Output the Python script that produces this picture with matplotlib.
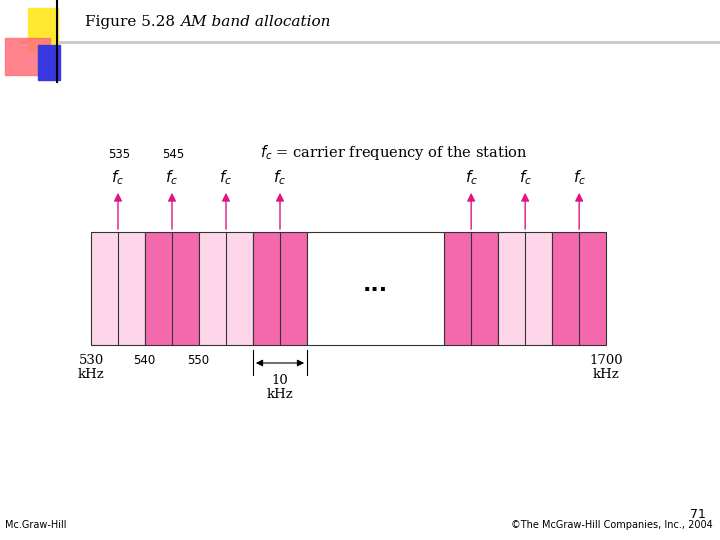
import matplotlib
matplotlib.use("Agg")
import matplotlib.pyplot as plt
from matplotlib.patches import Rectangle

# Data: band slots (in band-width units along the axis), fill type
band_slots = [0, 1, 2, 3, 6.54, 7.54, 8.54]
band_dark = [False, True, False, True, True, False, True]
gap_slot = (4, 6.54)
top_labels = ["535", "545"]
bottom_labels = ["540", "550"]
title = "Figure 5.28    AM band allocation"

fig = plt.figure(figsize=(7.2, 5.4), dpi=100)
ax = fig.add_axes([0, 0, 1, 1])
ax.set_xlim(0, 720); ax.set_ylim(540, 0); ax.axis("off")

# decorations
ax.add_patch(Rectangle((28, 8), 30, 42, color="#ffe830", zorder=1))
ax.add_patch(Rectangle((5, 38), 45, 37, color="#ff6f7a", alpha=0.85, zorder=2))
ax.add_patch(Rectangle((38, 45), 22, 35, color="#3838e0", zorder=3))
ax.plot([57, 57], [0, 82], color="black", lw=1.5, zorder=4)
ax.plot([20, 720], [42, 42], color="#c8c8c8", lw=2, zorder=0)
ax.text(85, 22, "Figure 5.28", family="DejaVu Serif", fontsize=11, va="center")
ax.text(180, 22, "AM band allocation", family="DejaVu Serif", style="italic", fontsize=11, va="center")

x0, w = 91, 54
def px(s): return x0 + s * w
y_top, y_bot = 232, 345
light, dark, mag = "#fdd6ea", "#f468ae", "#e0157f"
for s, d in zip(band_slots, band_dark):
    ax.add_patch(Rectangle((px(s), y_top), w, y_bot - y_top, facecolor=dark if d else light,
                           edgecolor="#333333", lw=0.8, zorder=2))
    c = px(s) + w / 2
    ax.plot([c, c], [y_top, y_bot], color="#333333", lw=0.8, zorder=3)
    ax.annotate("", xy=(c, 190), xytext=(c, y_top),
                arrowprops=dict(arrowstyle="-|>", color=mag, lw=1, mutation_scale=12), zorder=4)
    ax.text(c, 178, r"$f_c$", fontsize=11, ha="center", va="center", family="DejaVu Serif")
ax.add_patch(Rectangle((px(gap_slot[0]), y_top), px(gap_slot[1]) - px(gap_slot[0]), y_bot - y_top,
                       facecolor="white", edgecolor="#333333", lw=0.8, zorder=2))
ax.text((px(gap_slot[0]) + px(gap_slot[1])) / 2, 285, "...", fontsize=16, ha="center", va="center", weight="bold")

for i, t in enumerate(top_labels):
    ax.text(px(0.5 + i) + 1, 155, t, fontsize=8.5, ha="center", va="center")
ax.text(260, 153, r"$f_c$ = carrier frequency of the station", fontsize=10.5, va="center", family="DejaVu Serif")
for i, t in enumerate(bottom_labels):
    ax.text(px(1 + i) - 1, 360, t, fontsize=8.5, ha="center", va="center")
ax.text(px(0), 368, "530\nkHz", fontsize=9.5, ha="center", va="center", family="DejaVu Serif", linespacing=1.1)
ax.text(px(9.54), 368, "1700\nkHz", fontsize=9.5, ha="center", va="center", family="DejaVu Serif", linespacing=1.1)
ax.plot([px(3), px(3)], [350, 375], color="black", lw=0.8)
ax.plot([px(4), px(4)], [350, 375], color="black", lw=0.8)
ax.annotate("", xy=(px(3), 363), xytext=(px(4), 363), arrowprops=dict(arrowstyle="<|-|>", color="black", lw=0.8))
ax.text(px(3.5), 388, "10\nkHz", fontsize=9.5, ha="center", va="center", family="DejaVu Serif", linespacing=1.1)

ax.text(5, 525, "Mc.Graw-Hill", fontsize=7, va="center")
ax.text(690, 515, "71", fontsize=9, va="center")
ax.text(713, 525, "©The McGraw-Hill Companies, Inc., 2004", fontsize=7, va="center", ha="right")
fig.savefig("out.png", dpi=100)
